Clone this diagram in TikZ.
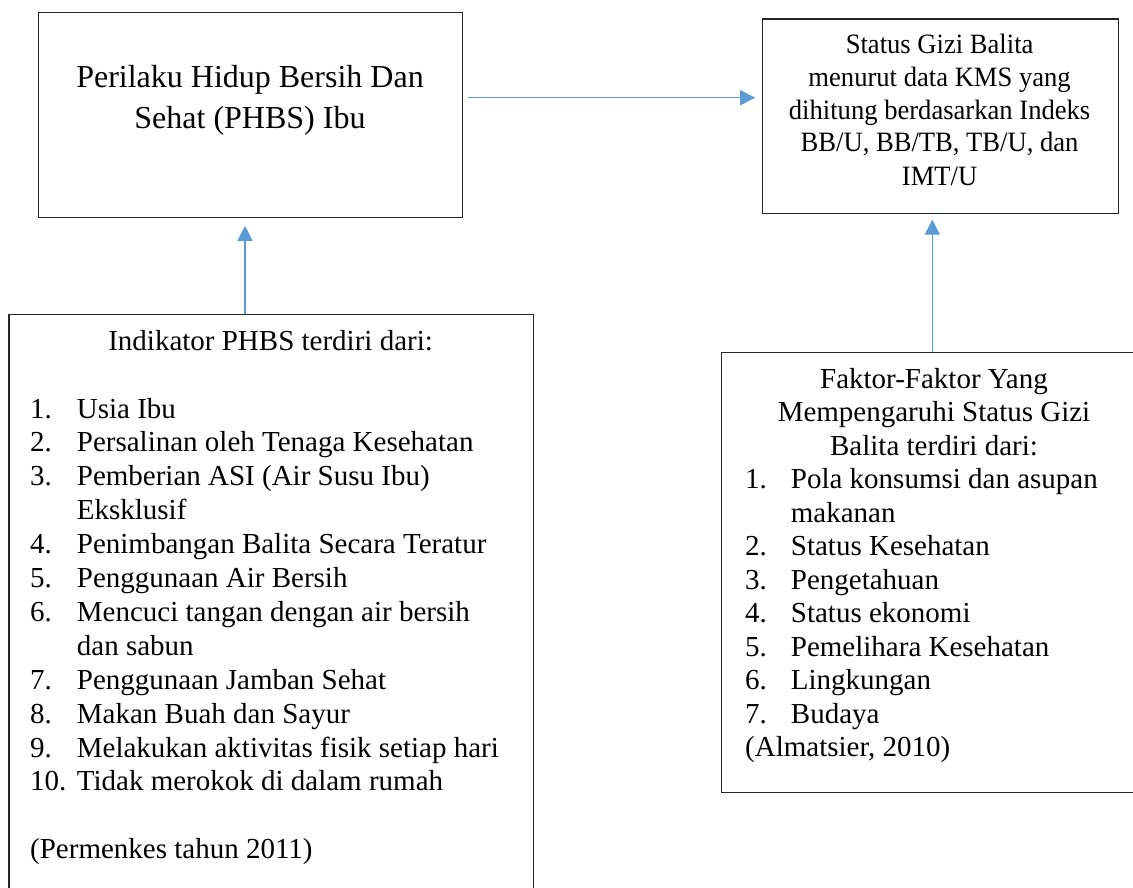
\documentclass[tikz,border=0pt]{standalone}
\usepackage{fontspec}
\setmainfont{Liberation Serif}
\newfontfamily\narrowserif[FakeStretch=0.95]{Liberation Serif}
\usetikzlibrary{arrows.meta}
\definecolor{arrblue}{HTML}{5B9BD5}
\definecolor{boxline}{HTML}{262626}
\tikzset{
  box/.style={draw=boxline, line width=1.3pt, inner sep=0pt, anchor=north west},
  arr/.style={draw=arrblue, line width=1.2pt, -{Triangle[length=15pt,width=15pt]}},
  ln/.style={inner sep=0pt, anchor=base west, font=\fontsize{29}{34}\selectfont},
  lc/.style={inner sep=0pt, anchor=base, font=\fontsize{29}{34}\selectfont},
  big/.style={inner sep=0pt, anchor=base, font=\fontsize{32}{40}\selectfont},
  mid/.style={inner sep=0pt, anchor=base, font=\narrowserif\fontsize{28}{33}\selectfont}
}
\begin{document}
\begin{tikzpicture}[x=1pt,y=-1pt]
\useasboundingbox (0,0) rectangle (1133,887);
% boxes
\node[box, minimum width=424pt, minimum height=205pt] (b1) at (38,12) {};
\node[box, minimum width=356pt, minimum height=194.5pt] (b2) at (761.7,18.3) {};
\node[box, minimum width=524.7pt, minimum height=620pt] (b3) at (8.3,314) {};
\node[box, minimum width=430pt, minimum height=440pt] (b4) at (720.7,352) {};
% box 1 text
\node[big] (t1a) at (250,87) {Perilaku Hidup Bersih Dan};
\node[big] (t1b) at (250,128) {Sehat (PHBS) Ibu};
% box 2 text
\node[mid] (t2a) at (939.6,53) {Status Gizi Balita};
\node[mid] (t2b) at (939.6,86.7) {menurut data KMS yang};
\node[mid] (t2c) at (939.6,119) {dihitung berdasarkan Indeks};
\node[mid] (t2d) at (939.6,151.7) {BB/U, BB/TB, TB/U, dan};
\node[mid] (t2e) at (939.6,185) {IMT/U};
% box 3 text
\node[lc] (t3) at (270.6,350) {Indikator PHBS terdiri dari:};
\node[ln] (n31) at (30,418) {1.};   \node[ln] (i31) at (76.7,418) {Usia Ibu};
\node[ln] (n32) at (30,451.9) {2.}; \node[ln] (i32) at (76.7,451.9) {Persalinan oleh Tenaga Kesehatan};
\node[ln] (n33) at (30,485.8) {3.}; \node[ln] (i33) at (76.7,485.8) {Pemberian ASI (Air Susu Ibu)};
\node[ln] (i33b) at (76.7,519.7) {Eksklusif};
\node[ln] (n34) at (30,553.6) {4.}; \node[ln] (i34) at (76.7,553.6) {Penimbangan Balita Secara Teratur};
\node[ln] (n35) at (30,587.5) {5.}; \node[ln] (i35) at (76.7,587.5) {Penggunaan Air Bersih};
\node[ln] (n36) at (30,621.4) {6.}; \node[ln] (i36) at (76.7,621.4) {Mencuci tangan dengan air bersih};
\node[ln] (i36b) at (76.7,655.3) {dan sabun};
\node[ln] (n37) at (30,689.2) {7.}; \node[ln] (i37) at (76.7,689.2) {Penggunaan Jamban Sehat};
\node[ln] (n38) at (30,723.1) {8.}; \node[ln] (i38) at (76.7,723.1) {Makan Buah dan Sayur};
\node[ln] (n39) at (30,757) {9.};   \node[ln] (i39) at (76.7,757) {Melakukan aktivitas fisik setiap hari};
\node[ln] (n310) at (30,790.9) {10.}; \node[ln] (i310) at (76.7,790.9) {Tidak merokok di dalam rumah};
\node[ln] (s3) at (30,858.7) {(Permenkes tahun 2011)};
% box 4 text
\node[lc] (t4a) at (934,388) {Faktor-Faktor Yang};
\node[lc] (t4b) at (934,421.5) {Mempengaruhi Status Gizi};
\node[lc] (t4c) at (934,455) {Balita terdiri dari:};
\node[ln] (n41) at (745,488.5) {1.}; \node[ln] (i41) at (790.7,488.5) {Pola konsumsi dan asupan};
\node[ln] (i41b) at (790.7,522) {makanan};
\node[ln] (n42) at (745,555.5) {2.}; \node[ln] (i42) at (790.7,555.5) {Status Kesehatan};
\node[ln] (n43) at (745,589) {3.};   \node[ln] (i43) at (790.7,589) {Pengetahuan};
\node[ln] (n44) at (745,622.5) {4.}; \node[ln] (i44) at (790.7,622.5) {Status ekonomi};
\node[ln] (n45) at (745,656) {5.};   \node[ln] (i45) at (790.7,656) {Pemelihara Kesehatan};
\node[ln] (n46) at (745,689.5) {6.}; \node[ln] (i46) at (790.7,689.5) {Lingkungan};
\node[ln] (n47) at (745,723) {7.};   \node[ln] (i47) at (790.7,723) {Budaya};
\node[ln] (s4) at (745,756.5) {(Almatsier, 2010)};
% connectors
\coordinate (hy) at (0,97.7);
\coordinate (vx1) at (245,0);
\coordinate (vx2) at (932.3,0);
\draw[arr, shorten <=5pt, shorten >=6.5pt] (b1.east |- hy) -- (b2.west |- hy);
\draw[arr, shorten >=7.5pt] (vx1 |- b3.north) -- (vx1 |- b1.south);
\draw[arr, shorten >=5.5pt] (vx2 |- b4.north) -- (vx2 |- b2.south);
\end{tikzpicture}
\end{document}
